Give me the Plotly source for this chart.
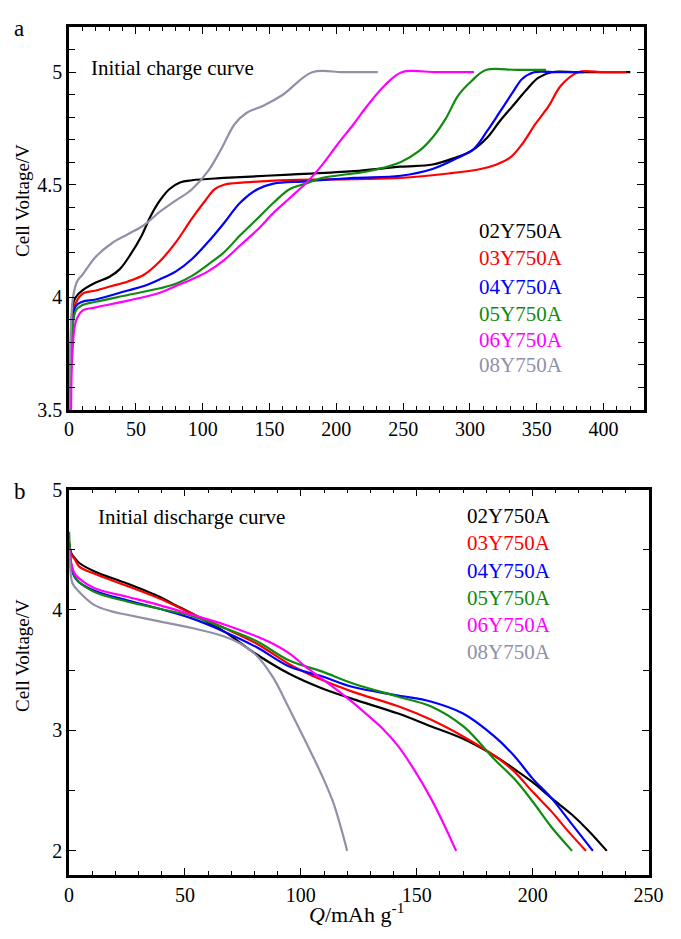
import plotly.graph_objects as go

# ---------------- data: initial charge curves (panel a) ----------------
names = ["02Y750A", "03Y750A", "04Y750A", "05Y750A", "06Y750A", "08Y750A"]
colors = ["#000000", "#ff0000", "#0000ff", "#118a11", "#ff00ff", "#9090a8"]

chg_q_02 = [0.5, 1.5, 3, 5, 10, 20, 30, 38, 46, 54, 61, 68, 75, 83, 92, 116, 165, 213, 248, 272, 289, 301, 313, 322, 332, 342, 351, 361, 380, 400, 420]
chg_v_02 = [3.5, 3.8, 3.97, 4.0, 4.03, 4.065, 4.09, 4.125, 4.19, 4.27, 4.36, 4.43, 4.48, 4.51, 4.52, 4.53, 4.545, 4.56, 4.58, 4.59, 4.62, 4.65, 4.71, 4.78, 4.85, 4.92, 4.975, 5.0, 5.0, 5.0, 5.0]

chg_q_03 = [1, 2, 3.5, 10, 20, 32, 44, 56, 68, 80, 92, 102, 109, 116, 131, 165, 213, 248, 284, 308, 320, 330, 339, 349, 359, 368, 381, 400, 417]
chg_v_03 = [3.5, 3.8, 3.95, 4.015, 4.03, 4.05, 4.07, 4.10, 4.16, 4.245, 4.35, 4.43, 4.48, 4.50, 4.51, 4.52, 4.525, 4.53, 4.55, 4.57, 4.59, 4.62, 4.68, 4.77, 4.85, 4.94, 5.0, 5.0, 5.0]

chg_q_04 = [1, 2, 5, 10, 20, 44, 56, 68, 80, 92, 104, 116, 128, 141, 153, 177, 213, 248, 272, 291, 303, 313, 322, 332, 339, 348, 365, 385]
chg_v_04 = [3.5, 3.8, 3.96, 3.98, 3.99, 4.03, 4.05, 4.08, 4.115, 4.17, 4.245, 4.33, 4.42, 4.48, 4.505, 4.515, 4.53, 4.54, 4.57, 4.62, 4.66, 4.74, 4.82, 4.91, 4.97, 5.0, 5.0, 5.0]

chg_q_05 = [1, 2, 5, 10, 20, 44, 68, 80, 92, 104, 116, 128, 141, 153, 165, 177, 189, 213, 224, 248, 262, 272, 282, 291, 301, 312, 335, 357]
chg_v_05 = [3.5, 3.78, 3.94, 3.965, 3.98, 4.01, 4.04, 4.06, 4.095, 4.145, 4.20, 4.275, 4.35, 4.42, 4.48, 4.505, 4.53, 4.55, 4.56, 4.6, 4.65, 4.71, 4.795, 4.895, 4.96, 5.01, 5.01, 5.01]

chg_q_06 = [1.5, 2.5, 5, 10, 20, 44, 68, 80, 92, 104, 116, 128, 141, 153, 165, 177, 189, 201, 213, 223, 236, 249, 275, 303]
chg_v_06 = [3.5, 3.75, 3.89, 3.94, 3.955, 3.985, 4.02, 4.05, 4.08, 4.115, 4.165, 4.23, 4.30, 4.375, 4.44, 4.505, 4.585, 4.68, 4.77, 4.85, 4.94, 5.0, 5.0, 5.0]

chg_q_08 = [0, 1, 3, 6, 10, 20, 32, 44, 56, 68, 80, 92, 104, 114, 124, 133, 145, 160, 182, 205, 231]
chg_v_08 = [3.5, 3.8, 4.0, 4.07, 4.1, 4.18, 4.24, 4.28, 4.32, 4.38, 4.43, 4.48, 4.56, 4.66, 4.77, 4.82, 4.85, 4.90, 5.0, 5.0, 5.0]

# ---------------- data: initial discharge curves (panel b) ----------------
dis_q_02 = [0, 1, 2.5, 4.4, 11, 25, 39, 46, 53, 67, 81, 95, 109, 122.5, 142, 156, 170, 183.5, 192, 200, 208, 217, 224, 232]
dis_v_02 = [4.56, 4.47, 4.43, 4.39, 4.32, 4.22, 4.11, 4.04, 3.97, 3.82, 3.63, 3.47, 3.35, 3.26, 3.14, 3.035, 2.93, 2.79, 2.68, 2.57, 2.44, 2.30, 2.17, 2.0]

dis_q_03 = [0, 1, 2.5, 4.4, 11, 25, 39, 53, 67, 81, 95, 109, 122.5, 142, 156, 170, 183.5, 192, 200, 208, 215, 223]
dis_v_03 = [4.56, 4.46, 4.42, 4.36, 4.30, 4.20, 4.095, 3.97, 3.85, 3.72, 3.55, 3.42, 3.32, 3.20, 3.09, 2.95, 2.79, 2.66, 2.49, 2.33, 2.17, 2.0]

dis_q_04 = [0, 1, 2.5, 4.4, 11, 25, 39, 53, 67, 81, 95, 109, 122.5, 142, 156, 170, 183.5, 192, 200, 208, 217, 226]
dis_v_04 = [4.55, 4.35, 4.27, 4.23, 4.16, 4.08, 4.01, 3.93, 3.82, 3.69, 3.53, 3.45, 3.36, 3.29, 3.24, 3.14, 2.95, 2.79, 2.60, 2.44, 2.22, 2.0]

dis_q_05 = [0, 1, 2.5, 4.4, 11, 25, 39, 53, 67, 81, 95, 109, 122.5, 142, 156, 170, 177, 183.5, 192, 200, 208, 217]
dis_v_05 = [4.65, 4.38, 4.28, 4.23, 4.15, 4.07, 4.01, 3.95, 3.85, 3.74, 3.58, 3.49, 3.39, 3.28, 3.20, 3.035, 2.90, 2.76, 2.60, 2.41, 2.20, 2.0]

dis_q_06 = [0, 1, 2.5, 4.4, 11, 25, 39, 53, 67, 81, 88, 95, 102, 109, 116, 122.5, 128, 135, 142, 149, 156, 161.5, 167]
dis_v_06 = [4.52, 4.38, 4.30, 4.26, 4.18, 4.11, 4.04, 3.96, 3.88, 3.78, 3.72, 3.64, 3.53, 3.43, 3.33, 3.23, 3.14, 3.02, 2.87, 2.67, 2.44, 2.23, 2.0]

dis_q_08 = [0, 0.5, 1.5, 4.4, 11, 18, 25, 39, 53, 67, 74, 81, 88, 95, 102, 109, 114, 120]
dis_v_08 = [4.50, 4.35, 4.22, 4.15, 4.04, 3.99, 3.96, 3.905, 3.85, 3.78, 3.72, 3.62, 3.44, 3.18, 2.91, 2.63, 2.40, 2.0]

charge = [(chg_q_02, chg_v_02), (chg_q_03, chg_v_03), (chg_q_04, chg_v_04),
          (chg_q_05, chg_v_05), (chg_q_06, chg_v_06), (chg_q_08, chg_v_08)]
discharge = [(dis_q_02, dis_v_02), (dis_q_03, dis_v_03), (dis_q_04, dis_v_04),
             (dis_q_05, dis_v_05), (dis_q_06, dis_v_06), (dis_q_08, dis_v_08)]

# ---------------- figure ----------------
W, H = 681, 939
FONT = "Liberation Serif, Times New Roman, DejaVu Serif, serif"

fig = go.Figure()
for (q, v), n, c in zip(charge, names, colors):
    fig.add_trace(go.Scatter(x=q, y=v, mode="lines", name=n, xaxis="x", yaxis="y",
                             line=dict(color=c, width=2.2, shape="spline", smoothing=1.0),
                             showlegend=False))
for (q, v), n, c in zip(discharge, names, colors):
    fig.add_trace(go.Scatter(x=q, y=v, mode="lines", name=n, xaxis="x2", yaxis="y2",
                             line=dict(color=c, width=2.2, shape="spline", smoothing=1.0),
                             showlegend=False))


def px(x, y):
    return x / W, 1 - y / H


def axis_common():
    return dict(showline=True, linewidth=2.5, linecolor="black", mirror="ticks",
                ticks="inside", tickwidth=1.3, ticklen=7, tickcolor="black",
                showgrid=False, zeroline=False,
                tickfont=dict(family=FONT, size=20, color="black"))


xa = axis_common()
xa.update(domain=[66 / W, 658 / W], range=[0, 430], anchor="y", tick0=0, dtick=50,
          minor=dict(dtick=10, ticks="inside", ticklen=4, tickwidth=1.1, tickcolor="black"))
ya = axis_common()
ya.update(domain=[1 - 408.3 / H, 1 - 16.6 / H], range=[3.5, 5.2], anchor="x", tick0=0, dtick=0.5,
          minor=dict(dtick=0.1, ticks="inside", ticklen=6, tickwidth=1.1, tickcolor="black"))
xb = axis_common()
xb.update(domain=[66 / W, 663 / W], range=[0, 250], anchor="y2", tick0=0, dtick=50,
          minor=dict(dtick=10, ticks="inside", ticklen=4, tickwidth=1.1, tickcolor="black"))
yb = axis_common()
yb.update(domain=[1 - 884.7 / H, 1 - 490 / H], range=[1.8, 5], anchor="x2", tick0=0, dtick=1,
          minor=dict(dtick=0.5, ticks="inside", ticklen=6, tickwidth=1.1, tickcolor="black"))

annotations = []


def add_text(text, x, y, size=19, color="black", xanchor="left", angle=0):
    ax, ay = px(x, y)
    annotations.append(dict(text=text, x=ax, y=ay, xref="paper", yref="paper",
                            xanchor=xanchor, yanchor="middle", showarrow=False,
                            textangle=angle, borderpad=0,
                            font=dict(family=FONT, size=size, color=color)))


add_text("a", 8, 18, size=23)
add_text("b", 8, 492, size=23)
add_text("Initial charge curve", 88, 58, size=21)
add_text("Initial discharge curve", 95, 518, size=21)

top_leg_y = [225, 253, 283, 310, 337, 362]
bot_leg_y = [517, 545, 573, 601, 629, 656]
for n, c, yy in zip(names, colors, top_leg_y):
    add_text(n, 487, yy, size=21, color=c)
for n, c, yy in zip(names, colors, bot_leg_y):
    add_text(n, 475, yy, size=21, color=c)

add_text("Cell Voltage/V", 18, 194, size=19, xanchor="center", angle=-90)
add_text("Cell Voltage/V", 18, 660, size=19, xanchor="center", angle=-90)
add_text("<i>Q</i>/mAh g<sup>-1</sup>", 362, 924, size=22, xanchor="center")

fig.update_layout(width=W, height=H, autosize=False,
                  margin=dict(l=0, r=0, t=0, b=0),
                  paper_bgcolor="white", plot_bgcolor="white",
                  xaxis=xa, yaxis=ya, xaxis2=xb, yaxis2=yb,
                  annotations=annotations,
                  font=dict(family=FONT, color="black"))

fig.write_html("out.html")
